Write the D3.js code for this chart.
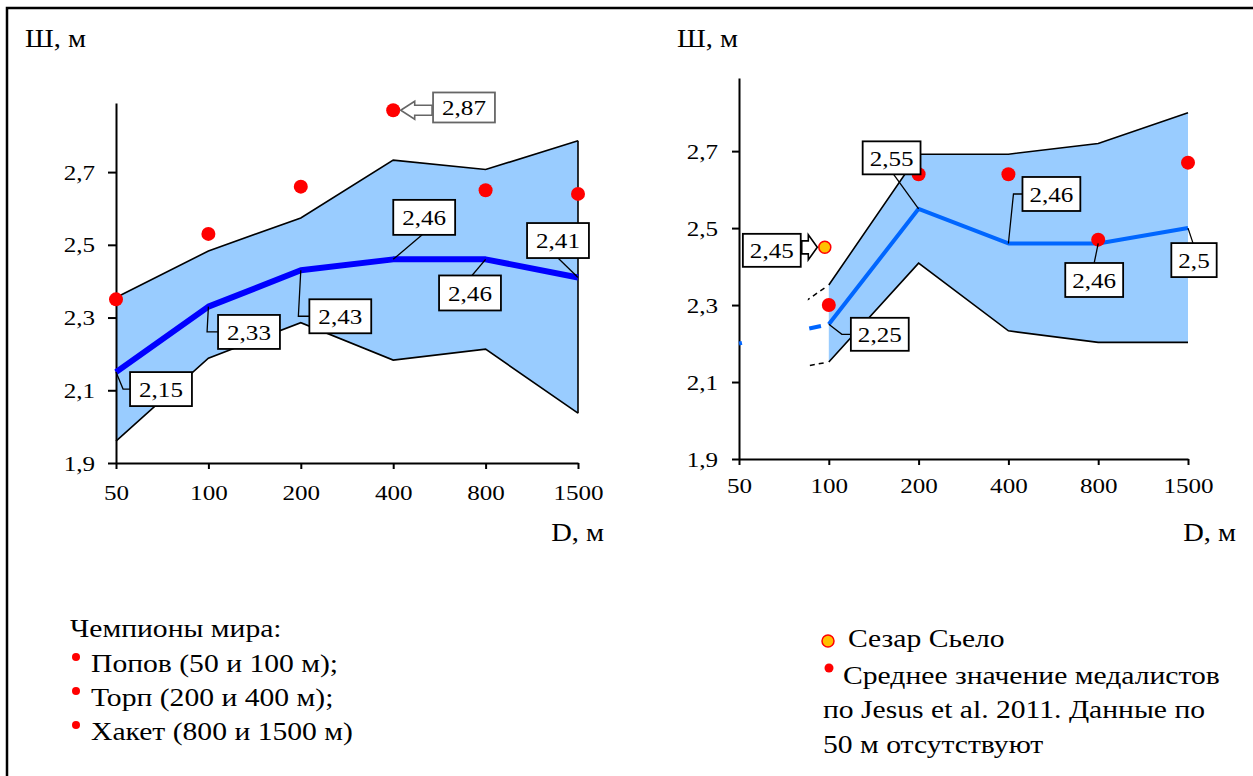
<!DOCTYPE html>
<html>
<head>
<meta charset="utf-8">
<script src="https://cdn.jsdelivr.net/npm/d3@7"></script>
<style>
  body { margin: 0; background: #fff; }
  svg { display: block; }
  text { font-family: "Liberation Serif", "Times New Roman", serif; fill: #000; }
</style>
</head>
<body>
<svg id="chart" width="1253" height="776"></svg>
<script>
// ---- data -------------------------------------------------------------
const distances = ["50", "100", "200", "400", "800", "1500"];
const yTicks = [1.9, 2.1, 2.3, 2.5, 2.7];

// Left panel: world champions, range band and mean stroke width
const champCats  = ["50", "100", "200", "400", "800", "1500"];
const champUpper = [2.355, 2.483, 2.574, 2.733, 2.707, 2.786];
const champLower = [1.960, 2.188, 2.286, 2.183, 2.213, 2.037];
const champMean  = [2.15, 2.33, 2.43, 2.46, 2.46, 2.41];
const champDots  = [2.35, 2.53, 2.66, 2.87, 2.65, 2.64];

// Right panel: medalists (Jesus et al. 2011), no 50 m data
const medCats  = ["100", "200", "400", "800", "1500"];
const medUpper = [2.352, 2.692, 2.692, 2.720, 2.800];
const medLower = [2.152, 2.409, 2.233, 2.203, 2.203];
const medMean  = [2.25, 2.55, 2.46, 2.46, 2.5];
const medDots  = [2.30, 2.64, 2.64, 2.47, 2.67];
const cieloValue = 2.45;
// dashed stubs heading towards the missing 50 m point
const stubUpper = 2.19, stubMean = 2.20, stubLower = 2.11;

const legendLeftTitle = "Чемпионы мира:";
const legendLeftItems = ["Попов (50 и 100 м);", "Торп (200 и 400 м);", "Хакет (800 и 1500 м)"];
const legendRightCielo = "Сезар Сьело";
const legendRightMean = ["Среднее значение медалистов", "по Jesus et al. 2011. Данные по", "50 м отсутствуют"];

// ---- drawing ----------------------------------------------------------
const SX = 1.14;              // horizontal stretch of the lettering
const FS = 22;                // tick and value label size
const TFS = 25;               // axis title size
const LFS = 26;               // legend size
const svg = d3.select("#chart");
const comma = v => String(v).replace(".", ",");
const tickFmt = d => d3.format(".1f")(d).replace(".", ",");

function label(g, x, y, str, opts = {}) {
  return g.append("text")
    .attr("transform", `translate(${x},${y}) scale(${SX},1)`)
    .attr("text-anchor", opts.anchor || "start")
    .style("font-size", (opts.size || FS) + "px")
    .text(str);
}
function stretchAxisText(axisG) {
  axisG.selectAll("text").each(function () {
    const t = d3.select(this);
    const x = +t.attr("x") || 0, y = +t.attr("y") || 0;
    t.attr("x", null).attr("y", null)
      .attr("transform", `translate(${x},${y}) scale(${SX},1)`);
  });
}

// outer frame (open to the right and bottom)
svg.append("rect").attr("x", 7).attr("y", 8).attr("width", 1300).attr("height", 820)
  .attr("fill", "none").attr("stroke", "#000").attr("stroke-width", 2.5);

function panel(cfg) {
  const x = d3.scalePoint().domain(distances).range(cfg.xRange);
  const y = d3.scaleLinear().domain([1.9, 2.89]).range(cfg.yRange);
  const g = svg.append("g");
  const cats = cfg.cats;

  // range band
  const area = d3.area()
    .x((d, i) => x(cats[i]))
    .y0((d, i) => y(cfg.lower[i]))
    .y1(d => y(d));
  g.append("path").datum(cfg.upper).attr("d", area).attr("fill", "#99CCFF");

  const line = d3.line().x((d, i) => x(cats[i])).y(d => y(d));
  g.append("path").datum(cfg.upper).attr("d", line)
    .attr("fill", "none").attr("stroke", "#000").attr("stroke-width", 1.6);
  g.append("path").datum(cfg.lower).attr("d", line)
    .attr("fill", "none").attr("stroke", "#000").attr("stroke-width", 1.6);
  if (cfg.rightEdge) {
    const last = cats.length - 1;
    g.append("line")
      .attr("x1", x(cats[last])).attr("x2", x(cats[last]))
      .attr("y1", y(cfg.upper[last])).attr("y2", y(cfg.lower[last]))
      .attr("stroke", "#000").attr("stroke-width", 1.6);
  }

  // axes
  const yAxis = g.append("g").attr("transform", `translate(${cfg.xRange[0]},0)`)
    .call(d3.axisLeft(y).tickValues(yTicks).tickFormat(tickFmt)
      .tickSizeInner(cfg.yTick).tickSizeOuter(0).tickPadding(cfg.yPad));
  const xAxis = g.append("g").attr("transform", `translate(0,${cfg.yRange[0]})`)
    .call(d3.axisBottom(x).tickSizeInner(6).tickSizeOuter(0).tickPadding(cfg.xPad));
  [yAxis, xAxis].forEach(a => {
    a.attr("font-family", null).attr("font-size", null);
    a.selectAll("path, line").attr("stroke", "#000").attr("stroke-width", 2);
    a.selectAll("text").style("font-size", FS + "px");
    stretchAxisText(a);
  });

  // stubs towards 50 m (right panel)
  if (cfg.stubs) {
    const clipId = "stubclip";
    svg.append("defs").append("clipPath").attr("id", clipId).append("rect")
      .attr("x", x("100") - 21).attr("y", 0).attr("width", 18).attr("height", 776);
    [stubUpper, stubLower].forEach((v, k) => {
      const end = k === 0 ? cfg.upper[0] : cfg.lower[0];
      g.append("path")
        .attr("d", d3.line()([[x("50"), y(v)], [x("100"), y(end)]]))
        .attr("clip-path", `url(#${clipId})`)
        .attr("fill", "none").attr("stroke", "#000").attr("stroke-width", 1.5)
        .attr("stroke-dasharray", "5,4");
    });
    const bp = g.append("path")
      .attr("d", d3.line()([[x("50"), y(stubMean)], [x("100"), y(cfg.mean[0])]]))
      .attr("fill", "none").attr("stroke", cfg.meanColor).attr("stroke-width", cfg.meanWidth);
    const L = bp.node().getTotalLength();
    bp.attr("stroke-dasharray", `3,${L - 23},12,${L}`);
  }

  // mean line
  g.append("path").datum(cfg.mean).attr("d", line)
    .attr("fill", "none").attr("stroke", cfg.meanColor)
    .attr("stroke-width", cfg.meanWidth).attr("stroke-linejoin", "round");

  // dots
  g.selectAll("circle.dot").data(cfg.dots).join("circle")
    .attr("class", "dot")
    .attr("cx", (d, i) => x(cats[i])).attr("cy", d => y(d))
    .attr("r", 7).attr("fill", "#FF0000");

  if (cfg.cielo !== undefined) {
    g.append("circle").attr("cx", x("100") - 4).attr("cy", y(cfg.cielo)).attr("r", 6)
      .attr("fill", "#FFC000").attr("stroke", "#FF0000").attr("stroke-width", 1.5);
  }

  // value callouts
  cfg.callouts.forEach(c => {
    const vals = c.src === "dot" ? cfg.dots : cfg.mean;
    const v = c.src === "cielo" ? cfg.cielo : vals[c.i];
    const px = c.src === "cielo" ? x("100") - 4 : x(cats[c.i]);
    const py = y(v);
    const cx = px + c.dx, cy = py + c.dy;
    const grp = g.append("g");
    const t = label(grp, cx, cy, comma(v), { anchor: "middle" }).attr("dy", "0.35em");
    const w = t.node().getComputedTextLength() * SX + 2 * c.pad;
    const left = cx - w / 2, right = cx + w / 2, top = cy - c.h / 2, bottom = cy + c.h / 2;
    const stroke = c.color || "#000";

    if (c.type === "arrowL" || c.type === "arrowR") {
      const dir = c.type === "arrowL" ? 1 : -1;
      const tx = px + dir * 7.5, ty = py;
      const xb = tx + dir * c.head, xe = (dir === 1 ? left : right) - dir * 1;
      const pts = [[tx, ty], [xb, ty - c.hh], [xb, ty - c.sh], [xe, ty - c.sh],
                   [xe, ty + c.sh], [xb, ty + c.sh], [xb, ty + c.hh]];
      grp.insert("path", "text").attr("d", "M" + pts.join("L") + "Z")
        .attr("fill", "#fff").attr("stroke", stroke).attr("stroke-width", 1.6);
    } else {
      let pts;
      if (c.type === "elbow") pts = [[px, py], [left - c.el, cy], [left, cy]];
      else if (c.type === "bottom") pts = [[px, py], [cx + c.lx, bottom]];
      else pts = [[px, py], [cx + c.lx, top]];
      grp.insert("path", "text").attr("d", d3.line()(pts))
        .attr("fill", "none").attr("stroke", "#000").attr("stroke-width", 1.3);
    }
    grp.insert("rect", "text")
      .attr("x", left).attr("y", top).attr("width", w).attr("height", c.h)
      .attr("fill", "#fff").attr("stroke", stroke).attr("stroke-width", 1.8);
  });

  // axis titles
  label(g, cfg.yTitle[0], cfg.yTitle[1], "Ш, м", { size: TFS });
  label(g, cfg.xTitle[0], cfg.xTitle[1], "D, м", { anchor: "end", size: TFS });
}

panel({
  cats: champCats, upper: champUpper, lower: champLower, mean: champMean, dots: champDots,
  xRange: [116, 578], yRange: [463, 103], yTick: 8, yPad: 13, xPad: 15,
  rightEdge: true, meanColor: "#0000FF", meanWidth: 6,
  yTitle: [25, 47], xTitle: [604, 541],
  callouts: [
    { i: 0, dx: 45, dy: 17, h: 34, pad: 9, type: "elbow", el: 7 },
    { i: 1, dx: 40.6, dy: 25.3, h: 34, pad: 9, type: "elbow", el: 11 },
    { i: 2, dx: 39.5, dy: 46, h: 34, pad: 9, type: "elbow", el: 11 },
    { i: 3, dx: 31, dy: -42, h: 35, pad: 9, type: "bottom", lx: -2 },
    { i: 4, dx: -15.6, dy: 33.6, h: 35, pad: 9, type: "top", lx: 2 },
    { i: 5, dx: -20, dy: -37, h: 35, pad: 9, type: "bottom", lx: 0 },
    { i: 3, src: "dot", dx: 70.8, dy: -2.8, h: 30, pad: 9, type: "arrowL",
      head: 14, hh: 9, sh: 5, color: "#666" }
  ]
});

panel({
  cats: medCats, upper: medUpper, lower: medLower, mean: medMean, dots: medDots,
  xRange: [739, 1188], yRange: [459, 78], yTick: 7, yPad: 14, xPad: 12,
  rightEdge: false, meanColor: "#0066FF", meanWidth: 4, stubs: true, cielo: cieloValue,
  yTitle: [677, 47], xTitle: [1236, 541],
  callouts: [
    { i: 0, dx: 51, dy: 10, h: 33, pad: 7, type: "elbow", el: 9 },
    { i: 1, dx: -27, dy: -51, h: 33, pad: 7, type: "bottom", lx: 2 },
    { i: 2, dx: 43, dy: -49.5, h: 34, pad: 7, type: "elbow", el: 9 },
    { i: 3, dx: -4, dy: 36.5, h: 34, pad: 7, type: "top", lx: 0 },
    { i: 4, dx: 6, dy: 32, h: 34, pad: 7, type: "top", lx: -1 },
    { src: "cielo", dx: -53, dy: 3, h: 33, pad: 7, type: "arrowR",
      head: 9, hh: 12.5, sh: 6.5 }
  ]
});

// ---- legends ----------------------------------------------------------
const lg = svg.append("g");
label(lg, 70, 637, legendLeftTitle, { size: LFS });
legendLeftItems.forEach((s, i) => {
  const base = 672 + i * 34;
  lg.append("circle").attr("cx", 76).attr("cy", base - 15).attr("r", 4).attr("fill", "#FF0000");
  label(lg, 91, base, s, { size: LFS });
});

lg.append("circle").attr("cx", 828).attr("cy", 641).attr("r", 6)
  .attr("fill", "#FFC000").attr("stroke", "#FF0000").attr("stroke-width", 1.5);
label(lg, 848, 647, legendRightCielo, { size: LFS });
lg.append("circle").attr("cx", 829).attr("cy", 668).attr("r", 4.5).attr("fill", "#FF0000");
label(lg, 843, 684, legendRightMean[0], { size: LFS });
label(lg, 823, 718, legendRightMean[1], { size: LFS });
label(lg, 823, 753, legendRightMean[2], { size: LFS });
</script>
</body>
</html>
